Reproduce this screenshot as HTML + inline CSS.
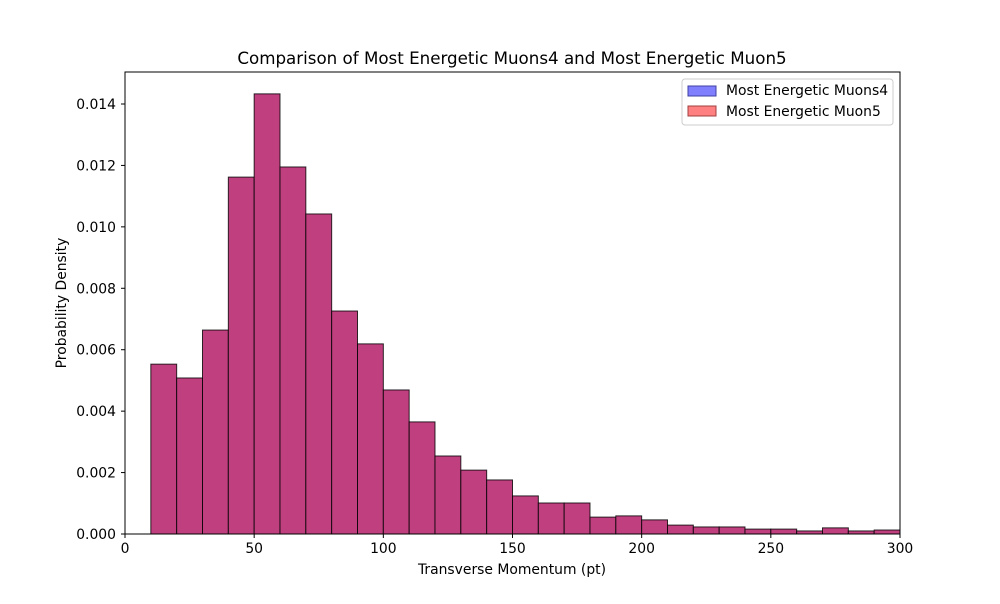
<!DOCTYPE html>
<html><head><meta charset="utf-8"><style>
body{margin:0;background:#fff;font-family:"DejaVu Sans","Liberation Sans",sans-serif}
svg text{font-family:"DejaVu Sans","Liberation Sans",sans-serif}
</style></head><body>
<svg id="chart" width="1000" height="600" xmlns="http://www.w3.org/2000/svg">
<rect width="1000" height="600" fill="#fff"/>
<text x="512" y="64" text-anchor="middle" font-size="16.7">Comparison of Most Energetic Muons4 and Most Energetic Muon5</text>
<g id="bars"></g>
<rect x="125" y="72" width="775" height="462" fill="none" stroke="#000" stroke-width="1"/>
<g id="xt"></g>
<g id="yt"></g>
<text x="512" y="574" text-anchor="middle" font-size="13.9">Transverse Momentum (pt)</text>
<text transform="translate(66,303) rotate(-90)" text-anchor="middle" font-size="13.9">Probability Density</text>
<g>
<rect x="682" y="79" width="211" height="46" fill="#fff" stroke="#ccc" rx="3"/>
<rect x="688" y="86" width="28" height="10" fill="#8080ff" stroke="#4040a0"/>
<text x="726" y="95" font-size="13.9">Most Energetic Muons4</text>
<rect x="688" y="106" width="28" height="10" fill="#ff8080" stroke="#a04040"/>
<text x="726" y="116" font-size="13.9">Most Energetic Muon5</text>
</g>
</svg>
<script>
const binStarts=[10,20,30,40,50,60,70,80,90,100,110,120,130,140,150,160,170,180,190,200,210,220,230,240,250,260,270,280,290];
const densities=[0.00553,0.00508,0.00664,0.01162,0.01433,0.01195,0.01042,0.00726,0.00619,0.00469,0.00365,0.00254,0.00208,0.00176,0.00124,0.00101,0.00101,0.00055,0.00059,0.00046,0.00029,0.00023,0.00023,0.00016,0.00016,0.0001,0.0002,0.0001,0.00013];
const xTicks=[0,50,100,150,200,250,300];
const yTicks=[0,0.002,0.004,0.006,0.008,0.010,0.012,0.014];
const binWidth=10;
const NS="http://www.w3.org/2000/svg";
const X=v=>125+v*(775/300);
const Y=v=>534-v*(430/0.014);
const bars=document.getElementById('bars');
binStarts.forEach((s,i)=>{
  const r=document.createElementNS(NS,'rect');
  r.setAttribute('x',X(s));r.setAttribute('width',X(s+binWidth)-X(s));
  r.setAttribute('y',Y(densities[i]));r.setAttribute('height',Y(0)-Y(densities[i]));
  r.setAttribute('fill','#bf3f7f');r.setAttribute('stroke','rgba(0,0,0,0.8)');r.setAttribute('stroke-width','1');
  
  
  bars.appendChild(r);
});
const xt=document.getElementById('xt');
xTicks.forEach(t=>{
  const l=document.createElementNS(NS,'line');
  l.setAttribute('x1',X(t));l.setAttribute('x2',X(t));l.setAttribute('y1',534);l.setAttribute('y2',538);l.setAttribute('stroke','#000');
  
  
  xt.appendChild(l);
  const tx=document.createElementNS(NS,'text');
  tx.setAttribute('x',X(t));tx.setAttribute('y',553);tx.setAttribute('text-anchor','middle');tx.setAttribute('font-size','13.9');
  tx.textContent=t;
  
  
  xt.appendChild(tx);
});
const yt=document.getElementById('yt');
yTicks.forEach(t=>{
  const l=document.createElementNS(NS,'line');
  l.setAttribute('x1',121);l.setAttribute('x2',125);l.setAttribute('y1',Y(t));l.setAttribute('y2',Y(t));l.setAttribute('stroke','#000');
  
  
  yt.appendChild(l);
  const tx=document.createElementNS(NS,'text');
  tx.setAttribute('x',116);tx.setAttribute('y',Y(t)+5);tx.setAttribute('text-anchor','end');tx.setAttribute('font-size','13.9');
  tx.textContent=t.toFixed(3);
  
  
  yt.appendChild(tx);
});
</script>
</body></html>
